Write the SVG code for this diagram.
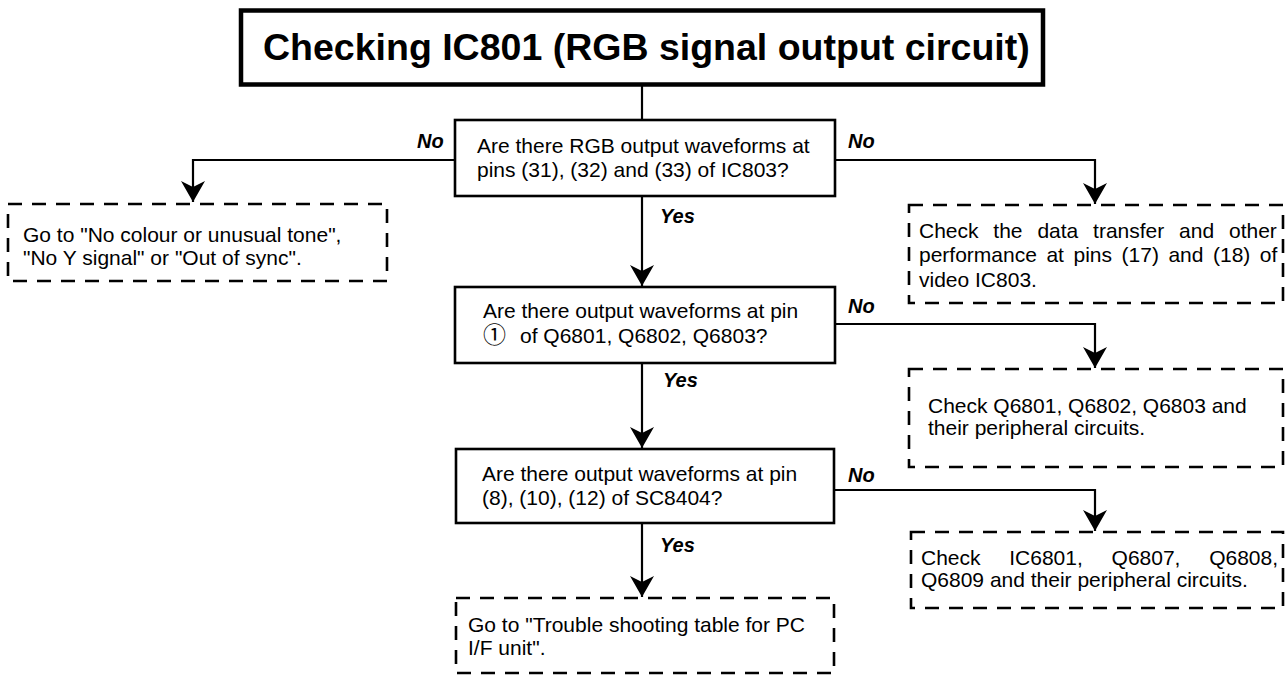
<svg xmlns="http://www.w3.org/2000/svg" width="1287" height="675" viewBox="0 0 1287 675">
<defs>
<style>
.t{font-family:"Liberation Sans",Arial,sans-serif;font-size:21px;fill:#000}
.lbl{font-family:"Liberation Sans",Arial,sans-serif;font-size:20px;font-weight:bold;font-style:italic;fill:#000}
.title{font-family:"Liberation Sans",Arial,sans-serif;font-size:37.5px;font-weight:bold;fill:#000}
.box{fill:#fff;stroke:#000;stroke-width:2.6}
.dbox{fill:#fff;stroke:#000;stroke-width:2.6;stroke-dasharray:14 10}
.conn{fill:none;stroke:#000;stroke-width:2.2}
</style>
<marker id="arr" markerUnits="userSpaceOnUse" markerWidth="30" markerHeight="30" viewBox="-24 -15 28 30" refX="0" refY="0" orient="auto">
<path d="M0,0 L-21,-12 L-15,0 L-21,12 Z" fill="#000"/>
</marker>
</defs>
<rect width="1287" height="675" fill="#fff"/>

<g id="connectors">
<line class="conn" x1="642" y1="86" x2="642" y2="120"/>
<line class="conn" x1="642" y1="196" x2="642" y2="286" marker-end="url(#arr)"/>
<line class="conn" x1="642" y1="363" x2="642" y2="448" marker-end="url(#arr)"/>
<line class="conn" x1="642" y1="523" x2="642" y2="597" marker-end="url(#arr)"/>
<polyline class="conn" points="455,160 193,160 193,202" marker-end="url(#arr)"/>
<polyline class="conn" points="835,160 1095,160 1095,204" marker-end="url(#arr)"/>
<polyline class="conn" points="835,324 1095,324 1095,368" marker-end="url(#arr)"/>
<polyline class="conn" points="835,490 1095,490 1095,531" marker-end="url(#arr)"/>
<text class="lbl" x="417" y="148">No</text>
<text class="lbl" x="848" y="148">No</text>
<text class="lbl" x="848" y="313">No</text>
<text class="lbl" x="848" y="482">No</text>
<text class="lbl" x="660" y="223">Yes</text>
<text class="lbl" x="663" y="387">Yes</text>
<text class="lbl" x="660" y="552">Yes</text>
</g>

<g id="title">
<rect x="241" y="10.5" width="802" height="74" fill="#fff" stroke="#000" stroke-width="4.5"/>
<text class="title" x="263" y="60">Checking IC801 (RGB signal output circuit)</text>
</g>

<g id="q1">
<rect class="box" x="455" y="120" width="380" height="76"/>
<text class="t" x="477" y="153">Are there RGB output waveforms at</text>
<text class="t" x="477" y="177">pins (31), (32) and (33) of IC803?</text>
</g>

<g id="q2">
<rect class="box" x="455" y="287" width="380" height="76"/>
<text class="t" x="483" y="318">Are there output waveforms at pin</text>
<text class="t" x="483" y="343"><tspan font-family="'Noto Sans CJK JP',sans-serif" font-size="23">①</tspan><tspan x="520">of Q6801, Q6802, Q6803?</tspan></text>
</g>

<g id="q3">
<rect class="box" x="456" y="449" width="378" height="74"/>
<text class="t" x="482" y="481">Are there output waveforms at pin</text>
<text class="t" x="482" y="505">(8), (10), (12) of SC8404?</text>
</g>

<g id="r-left">
<rect class="dbox" x="8" y="204" width="379" height="77"/>
<text class="t" x="23" y="242">Go to "No colour or unusual tone",</text>
<text class="t" x="23" y="265">"No Y signal" or "Out of sync".</text>
</g>

<g id="r-data">
<rect class="dbox" x="909" y="205" width="374" height="98"/>
<text class="t" x="919" y="238" word-spacing="9">Check the data transfer and other</text>
<text class="t" x="919" y="262" word-spacing="3.7">performance at pins (17) and (18) of</text>
<text class="t" x="919" y="287">video IC803.</text>
</g>

<g id="r-q680x">
<rect class="dbox" x="909" y="369" width="374" height="98"/>
<text class="t" x="928" y="413">Check Q6801, Q6802, Q6803 and</text>
<text class="t" x="928" y="435">their peripheral circuits.</text>
</g>

<g id="r-ic6801">
<rect class="dbox" x="911" y="532" width="372" height="76"/>
<text class="t" x="921" y="565" word-spacing="22.9">Check IC6801, Q6807, Q6808,</text>
<text class="t" x="921" y="587">Q6809 and their peripheral circuits.</text>
</g>

<g id="r-pc">
<rect class="dbox" x="456" y="598" width="378" height="75"/>
<text class="t" x="468" y="632">Go to "Trouble shooting table for PC</text>
<text class="t" x="468" y="655">I/F unit".</text>
</g>
</svg>
